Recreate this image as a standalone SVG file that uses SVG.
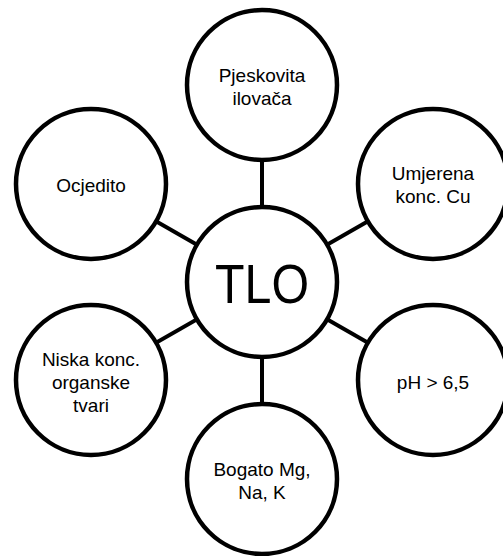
<svg xmlns="http://www.w3.org/2000/svg" width="503" height="556" viewBox="0 0 503 556">
<style>
.n circle{fill:#fff;stroke:#000;stroke-width:4.5}
.n text{font-family:"Liberation Sans",Arial,sans-serif;font-size:19px;fill:#000;text-anchor:middle;dominant-baseline:central}
.c line{stroke:#000;stroke-width:4}
</style>
<rect width="503" height="556" fill="#fff"/>
<g id="connectors" class="c">
<line x1="262" y1="282" x2="262" y2="85"/>
<line x1="262" y1="282" x2="91" y2="184"/>
<line x1="262" y1="282" x2="433" y2="184"/>
<line x1="262" y1="282" x2="91" y2="380"/>
<line x1="262" y1="282" x2="433" y2="380"/>
<line x1="262" y1="282" x2="262" y2="479"/>
</g>
<g id="tlo" class="n"><circle cx="262" cy="282" r="75"/><text x="262" y="283" style="font-size:56px" textLength="94" lengthAdjust="spacingAndGlyphs">TLO</text></g>
<g id="pjeskovita" class="n"><circle cx="262" cy="85" r="75"/><text x="262" y="75">Pjeskovita</text><text x="262" y="98">ilovača</text></g>
<g id="ocjedito" class="n"><circle cx="91" cy="184" r="75"/><text x="91" y="185">Ocjedito</text></g>
<g id="umjerena" class="n"><circle cx="433" cy="184" r="75"/><text x="433" y="173">Umjerena</text><text x="433" y="196">konc. Cu</text></g>
<g id="niska" class="n"><circle cx="91" cy="380" r="75"/><text x="91" y="359">Niska konc.</text><text x="91" y="382">organske</text><text x="91" y="405">tvari</text></g>
<g id="ph" class="n"><circle cx="433" cy="380" r="75"/><text x="433" y="382">pH &gt; 6,5</text></g>
<g id="bogato" class="n"><circle cx="262" cy="479" r="75"/><text x="262" y="469">Bogato Mg,</text><text x="262" y="492">Na, K</text></g>
</svg>
